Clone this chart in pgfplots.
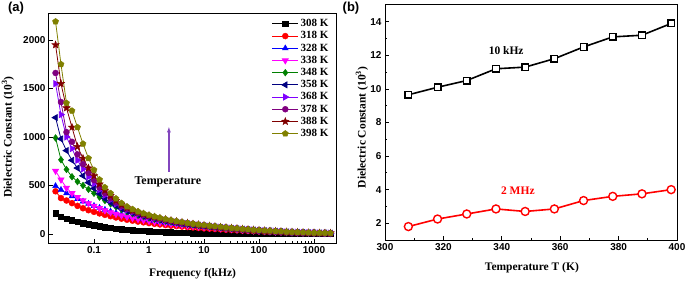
\documentclass[border=0pt]{standalone}
\usepackage{fontspec}
\setmainfont{Liberation Serif}
\setsansfont{Liberation Sans}
\usepackage{pgfplots}
\usepackage{pgfplotstable}
\pgfplotsset{compat=1.18}
\usetikzlibrary{arrows.meta}
\definecolor{c308}{RGB}{0,0,0}
\definecolor{c318}{RGB}{255,0,0}
\definecolor{c328}{RGB}{0,0,255}
\definecolor{c338}{RGB}{255,0,255}
\definecolor{c348}{RGB}{0,128,0}
\definecolor{c358}{RGB}{0,0,128}
\definecolor{c368}{RGB}{128,0,255}
\definecolor{c378}{RGB}{128,0,128}
\definecolor{c388}{RGB}{128,0,0}
\definecolor{c398}{RGB}{128,128,0}
\definecolor{arrowc}{RGB}{130,70,190}
\pgfdeclareplotmark{fstar}{%
  \pgfpathmoveto{\pgfpointpolar{90}{1.3\pgfplotmarksize}}%
  \pgfpathlineto{\pgfpointpolar{126}{0.55\pgfplotmarksize}}%
  \pgfpathlineto{\pgfpointpolar{162}{1.3\pgfplotmarksize}}%
  \pgfpathlineto{\pgfpointpolar{198}{0.55\pgfplotmarksize}}%
  \pgfpathlineto{\pgfpointpolar{234}{1.3\pgfplotmarksize}}%
  \pgfpathlineto{\pgfpointpolar{270}{0.55\pgfplotmarksize}}%
  \pgfpathlineto{\pgfpointpolar{306}{1.3\pgfplotmarksize}}%
  \pgfpathlineto{\pgfpointpolar{342}{0.55\pgfplotmarksize}}%
  \pgfpathlineto{\pgfpointpolar{18}{1.3\pgfplotmarksize}}%
  \pgfpathlineto{\pgfpointpolar{54}{0.55\pgfplotmarksize}}%
  \pgfpathclose\pgfusepathqfillstroke}

\pgfplotstableread{
f s308 s318 s328 s338 s348 s358 s368 s378 s388 s398
0.02 215 440 495 650 990 1200 1550 1660 1950 2190
0.0251 178 370 455 560 765 980 1230 1360 1550 1750
0.0316 160 345 420 475 665 860 1000 1050 1300 1350
0.0398 142 318 390 420 590 760 880 950 1100 1270
0.0501 127 290 360 380 540 680 760 820 900 1100
0.0631 113 265 335 345 500 600 670 720 780 930
0.0794 100 245 312 315 460 530 590 630 680 780
0.1 90 228 290 290 420 470 520 555 600 660
0.126 80 212 270 265 380 415 455 480 515 560
0.158 71 197 250 243 345 365 400 420 450 480
0.2 63 183 232 223 310 325 352 370 395 420
0.251 56 170 216 205 280 290 310 325 345 365
0.316 50 158 201 190 253 260 276 288 302 318
0.398 44 147 187 176 230 235 248 258 270 282
0.501 39 137 174 164 210 215 226 235 245 255
0.631 35 128 162 153 193 198 207 215 224 232
0.794 31 120 151 143 178 183 191 198 205 212
1 27 112 141 134 165 170 177 183 189 195
1.26 24 105 132 126 153 158 164 170 175 180
1.58 21 98 124 118 143 147 153 158 162 166
2 19 92 116 111 133 137 142 147 150 153
2.51 17 86 109 104 124 128 132 136 139 142
3.16 15 81 102 98 116 119 123 127 129 132
3.98 13 76 96 92 108 111 115 118 120 122
5.01 11 71 90 86 101 104 107 110 111 113
6.31 10 67 84 81 94 97 100 102 103 105
7.94 9 62 79 76 88 90 93 95 96 98
10 8 58 74 71 82 84 86 88 89 91
12.6 7 55 69 67 76 78 80 82 83 85
15.8 6 51 65 62 71 72 74 76 77 79
20 5.5 48 60 58 66 67 69 70 71 73
25.1 5 44 56 54 61 62 64 65 66 67
31.6 4.5 41 52 50 56 57 59 60 61 62
39.8 4 38 48 46 52 53 54 55 56 57
50.1 3.5 35 44 43 47 48 49 50 51 52
63.1 3 32 41 39 43 44 45 46 46 47
79.4 3 29 38 36 39 40 41 42 42 43
100 2.5 27 35 33 36 36 37 38 38 39
126 2.5 24 32 30 32 33 33 34 34 35
158 2 22 29 27 29 30 30 31 31 32
200 2 20 26 24 26 27 27 28 28 29
251 2 18 23 22 23 24 24 25 25 26
316 1.5 16 21 19 21 21 21 22 22 23
398 1.5 14 19 17 18 18 19 19 19 20
501 1.5 13 17 15 16 16 17 17 17 18
631 1 11 15 13 14 14 15 15 15 16
794 1 10 13 12 12 13 13 13 13 14
1000 1 9 11 10 11 11 12 12 12 12
1260 1 8 10 9 10 10 10 11 11 11
1580 1 7 9 8 9 9 9 10 10 10
2000 1 6 8 7 8 8 8 9 9 9
}\dataA

\tikzset{
  tlab/.style={font=\sffamily\bfseries\fontsize{10bp}{12bp}\selectfont},
  alab/.style={font=\bfseries\fontsize{11.5bp}{13bp}\selectfont},
}
\pgfplotsset{
  common/.style={
    scale only axis, anchor=south west,
    axis line style={line width=1bp},
    every tick/.style={line width=0.8bp, black},
    major tick length=4bp, minor tick length=2.2bp,
    tick align=inside, tick pos=left,
    tick label style={tlab},
    /pgf/number format/assume math mode=true,
    /pgf/number format/1000 sep={},
    label style={alab},
  },
  ser/.style={color=#1, line width=0.8bp, mark options={fill=#1, draw=#1, line width=0.4bp}, mark size=3bp},
}

\begin{document}
\begin{tikzpicture}
\path[use as bounding box] (0,0) rectangle (685bp,281bp);
\node[font=\sffamily\bfseries\fontsize{13bp}{15bp}\selectfont] at (16bp,273bp) {(a)};
\node[font=\sffamily\bfseries\fontsize{13bp}{15bp}\selectfont] at (351bp,273bp) {(b)};
\begin{axis}[common,
  at={(49bp,38bp)}, width=287bp, height=229bp,
  xmode=log, xmin=0.0152, xmax=2510, ymin=-93, ymax=2268,
  xtick={0.1,1,10,100,1000}, xticklabels={0.1,1,10,100,1000},
  ytick={0,500,1000,1500,2000},
  xlabel={Frequency f(kHz)}, ylabel={Dielectric Constant (10\textsuperscript{3})},
  xlabel style={at={(axis description cs:0.5,-0.135)}, anchor=center},
  ylabel style={at={(axis description cs:-0.143,0.463)}, anchor=center},
  legend style={draw=none, fill=none, at={(axis description cs:0.985,0.99)}, anchor=north east,
    font=\bfseries\fontsize{11bp}{12bp}\selectfont, row sep=-0.6bp, inner sep=1bp},
  legend cell align=left,
  legend image code/.code={\draw[mark repeat=2,mark phase=2] plot coordinates {(0bp,0bp)(13bp,0bp)(26bp,0bp)};},
]
\addplot[ser=c308, mark=square*, mark size=2.7bp] table[x=f,y=s308]{\dataA};
\addplot[ser=c318, mark=*] table[x=f,y=s318]{\dataA};
\addplot[ser=c328, mark=triangle*, mark size=3.4bp] table[x=f,y=s328]{\dataA};
\addplot[ser=c338, mark=triangle*, mark size=3.4bp, mark options={rotate=180}] table[x=f,y=s338]{\dataA};
\addplot[ser=c348, mark=diamond*, mark size=3.4bp] table[x=f,y=s348]{\dataA};
\addplot[ser=c358, mark=triangle*, mark size=3.4bp, mark options={rotate=90}] table[x=f,y=s358]{\dataA};
\addplot[ser=c368, mark=triangle*, mark size=3.4bp, mark options={rotate=-90}] table[x=f,y=s368]{\dataA};
\addplot[ser=c378, mark=*] table[x=f,y=s378]{\dataA};
\addplot[ser=c388, mark=fstar] table[x=f,y=s388]{\dataA};
\addplot[ser=c398, mark=pentagon*, mark size=3.2bp] table[x=f,y=s398]{\dataA};
\legend{308 K,318 K,328 K,338 K,348 K,358 K,368 K,378 K,388 K,398 K}
\draw[arrowc, line width=1.3bp, -{Latex[length=6bp,width=4bp]}] (axis cs:2.3,640) -- (axis cs:2.3,1110);
\node[font=\bfseries\fontsize{12bp}{14bp}\selectfont] at (axis cs:2.2,536) {Temperature};
\end{axis}

\begin{axis}[common,
  at={(385bp,41bp)}, width=292bp, height=235bp,
  xmin=300, xmax=400, ymin=1, ymax=15,
  xtick={300,320,340,360,380,400}, ytick={2,4,6,8,10,12,14},
  minor x tick num=1, minor y tick num=1,
  xlabel={Temperature T (K)}, ylabel={Dielectric Constant (10\textsuperscript{3})},
  xlabel style={at={(axis description cs:0.503,-0.119)}, anchor=center},
  ylabel style={at={(axis description cs:-0.079,0.479)}, anchor=center},
]
\addplot[black, line width=1.6bp, mark=square*, mark size=3.3bp, mark options={fill=white, line width=1.4bp}]
  coordinates {(308,9.65)(318,10.1)(328,10.5)(338,11.2)(348,11.3)(358,11.8)(368,12.5)(378,13.1)(388,13.2)(398,13.9)};
\addplot[red, line width=1.6bp, mark=*, mark size=4bp, mark options={fill=white, line width=1.4bp}]
  coordinates {(308,1.8)(318,2.25)(328,2.55)(338,2.85)(348,2.7)(358,2.85)(368,3.35)(378,3.6)(388,3.75)(398,4.0)};
\node[font=\bfseries\fontsize{11.5bp}{13bp}\selectfont] at (axis cs:341.5,12.27) {10 kHz};
\node[red, font=\bfseries\fontsize{11.5bp}{13bp}\selectfont] at (axis cs:345.5,3.91) {2 MHz};
\end{axis}
\end{tikzpicture}
\end{document}
